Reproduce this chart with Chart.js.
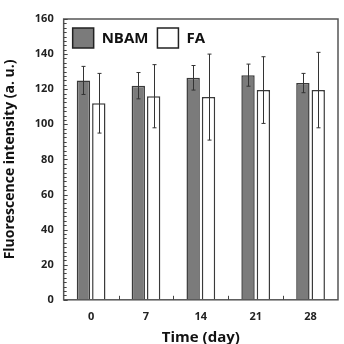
<!DOCTYPE html>
<html lang="en">
<head>
    <meta charset="UTF-8">
    <title>Fluorescence intensity over time</title>
    <script src="https://cdn.jsdelivr.net/npm/chart.js"></script>
    <style>
        html, body { margin: 0; padding: 0; background: #fff; }
        #wrap { width: 344px; height: 344px; }
    </style>
</head>
<body>
    <div id="wrap"><canvas id="chart" width="344" height="344"></canvas></div>

    <script>
        // Time points (day)
        const days = ['0', '7', '14', '21', '28'];

        // NBAM means and errors
        const nbam = [125, 122, 126.5, 128, 123.5];
        const nbamErr = [8, 7.5, 7, 6.3, 5.5];

        // FA means and errors
        const fa = [112, 116, 115.5, 119.5, 119.5];
        const faErr = [17, 18, 24.5, 19, 21.5];

        const yTicks = [0, 20, 40, 60, 80, 100, 120, 140, 160];

        const edge = '#3a3a3a';
        const fontFamily = '"Open Sans", "DejaVu Sans", sans-serif';

        // error bars, plot frame, inward tick marks and the legend inside the plot
        const extras = {
            id: 'extras',
            afterDatasetsDraw(chart) {
                const ctx = chart.ctx;
                const yScale = chart.scales.y;
                const errs = [nbamErr, faErr];
                const vals = [nbam, fa];
                ctx.save();
                ctx.strokeStyle = '#333';
                ctx.lineWidth = 1;
                errs.forEach((err, d) => {
                    chart.getDatasetMeta(d).data.forEach((bar, i) => {
                        const x = Math.round(bar.x) + 0.5;
                        const top = yScale.getPixelForValue(vals[d][i] + err[i]);
                        const bot = yScale.getPixelForValue(vals[d][i] - err[i]);
                        ctx.beginPath();
                        ctx.moveTo(x, top);
                        ctx.lineTo(x, bot);
                        ctx.moveTo(x - 2, top);
                        ctx.lineTo(x + 2, top);
                        ctx.moveTo(x - 2, bot);
                        ctx.lineTo(x + 2, bot);
                        ctx.stroke();
                    });
                });
                ctx.restore();
            },
            afterDraw(chart) {
                const ctx = chart.ctx;
                const a = chart.chartArea;
                const xScale = chart.scales.x;
                const yScale = chart.scales.y;
                ctx.save();
                ctx.strokeStyle = '#555';
                ctx.lineWidth = 1.5;
                ctx.strokeRect(a.left, a.top, a.right - a.left, a.bottom - a.top);

                ctx.lineWidth = 1;
                ctx.strokeStyle = '#444';
                ctx.beginPath();
                // minor ticks every 2.5 units on the y axis
                for (let v = 0; v <= 160; v += 2.5) {
                    const y = Math.round(yScale.getPixelForValue(v)) + 0.5;
                    const len = v % 20 === 0 ? 4 : 3;
                    ctx.moveTo(a.left, y);
                    ctx.lineTo(a.left + len, y);
                }
                // ticks at category boundaries on the x axis
                for (let i = 1; i < days.length; i++) {
                    const x = Math.round((xScale.getPixelForValue(i - 1) + xScale.getPixelForValue(i)) / 2) + 0.5;
                    ctx.moveTo(x, a.bottom);
                    ctx.lineTo(x, a.bottom - 4);
                }
                ctx.stroke();

                // legend, in one row at the top left of the plot
                ctx.font = 'bold 15px ' + fontFamily;
                ctx.textBaseline = 'middle';
                ctx.textAlign = 'left';
                let x = a.left + 9;
                const y = a.top + 9;
                chart.data.datasets.forEach(ds => {
                    ctx.fillStyle = ds.backgroundColor;
                    ctx.fillRect(x, y, 21, 20);
                    ctx.strokeStyle = '#222';
                    ctx.lineWidth = 1.5;
                    ctx.strokeRect(x, y, 21, 20);
                    ctx.fillStyle = '#111';
                    ctx.fillText(ds.label, x + 29, y + 10.5);
                    x += 29 + ctx.measureText(ds.label).width + 9;
                });
                ctx.restore();
            }
        };

        new Chart(document.getElementById('chart').getContext('2d'), {
            type: 'bar',
            data: {
                labels: days,
                datasets: [
                    {
                        label: 'NBAM',
                        data: nbam,
                        backgroundColor: '#7b7b7b',
                        borderColor: edge,
                        borderWidth: 1.5,
                        categoryPercentage: 0.56,
                        barPercentage: 0.87
                    },
                    {
                        label: 'FA',
                        data: fa,
                        backgroundColor: '#ffffff',
                        borderColor: edge,
                        borderWidth: 1.5,
                        categoryPercentage: 0.56,
                        barPercentage: 0.87
                    }
                ]
            },
            options: {
                responsive: false,
                animation: false,
                layout: { padding: { top: 19, right: 6, left: 2, bottom: -3 } },
                scales: {
                    x: {
                        grid: { display: false, drawTicks: false },
                        border: { display: false },
                        ticks: {
                            color: '#222',
                            padding: 10,
                            font: { family: fontFamily, size: 11, weight: 'bold' }
                        },
                        title: {
                            display: true,
                            text: 'Time (day)',
                            color: '#111',
                            padding: { top: -4, bottom: 0 },
                            font: { family: fontFamily, size: 15, weight: 'bold' }
                        }
                    },
                    y: {
                        min: 0,
                        max: 160,
                        afterBuildTicks: axis => {
                            axis.ticks = yTicks.map(v => ({ value: v }));
                        },
                        grid: { display: false, drawTicks: false },
                        border: { display: false },
                        ticks: {
                            color: '#222',
                            padding: 10,
                            font: { family: fontFamily, size: 11, weight: 'bold' }
                        },
                        title: {
                            display: true,
                            text: 'Fluorescence intensity (a. u.)',
                            color: '#111',
                            padding: { top: 0, bottom: 6 },
                            font: { family: fontFamily, size: 14, weight: 'bold' }
                        }
                    }
                },
                plugins: {
                    legend: { display: false },
                    tooltip: { enabled: false }
                }
            },
            plugins: [extras]
        });
    </script>
</body>
</html>
